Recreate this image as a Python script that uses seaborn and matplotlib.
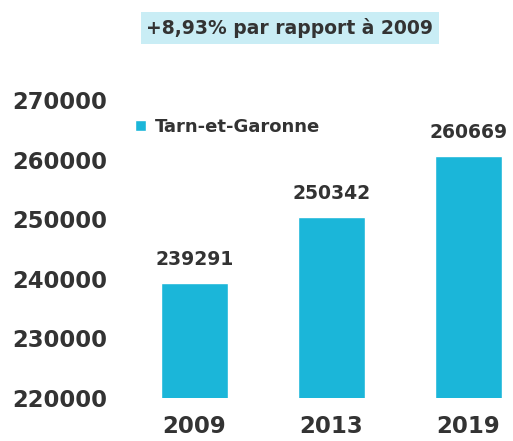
import matplotlib
matplotlib.use("Agg")
import matplotlib.pyplot as plt
import seaborn as sns
import pandas as pd

years = ["2009", "2013", "2019"]
values = [239291, 250342, 260669]
series_name = "Tarn-et-Garonne"
title = "+8,93% par rapport à 2009"
yticks = [220000, 230000, 240000, 250000, 260000, 270000]

sns.set_style("white")
plt.rcParams['font.family'] = ['DejaVu Sans']

BAR = "#1bb6d9"
TXT = "#333333"

df = pd.DataFrame({"year": years, "value": values})

fig = plt.figure(figsize=(5.13, 4.41), dpi=100)
W, H = 513, 441
left, right = 126, 513
bottom_px, top_px = 398, 100
ax = fig.add_axes([left / W, (H - bottom_px) / H, (right - left) / W, (bottom_px - top_px) / H])

sns.barplot(data=df, x="year", y="value", color=BAR, width=0.49, ax=ax,
            label=series_name, saturation=1)

ax.set_ylim(yticks[0], yticks[-1])
ax.set_xlim(-0.5, -0.5 + (right - left) / 137)
ax.set_yticks(yticks)
ax.set_yticklabels([str(t) for t in yticks], fontsize=16.3, fontweight="bold", color=TXT, ha="left")
ax.tick_params(axis="y", length=0, pad=(left - 12) * 0.72)
ax.tick_params(axis="x", length=0, pad=12)
for lbl in ax.get_xticklabels():
    lbl.set_fontsize(16.5)
    lbl.set_fontweight("bold")
    lbl.set_color(TXT)
ax.set_xlabel("")
ax.set_ylabel("")
for s in ax.spines.values():
    s.set_visible(False)

ax.bar_label(ax.containers[0], labels=[str(v) for v in values], padding=10,
             fontsize=13.5, fontweight="bold", color=TXT)

leg = ax.legend(loc="upper left", bbox_to_anchor=(0.005, 0.965), frameon=False,
                handlelength=0.6, handleheight=0.6, handletextpad=0.5,
                prop={"size": 13, "weight": "bold"}, borderaxespad=0)
for t in leg.get_texts():
    t.set_color(TXT)

fig.text(290 / W, 1 - 28 / H, title, ha="center", va="center", fontsize=13.5,
         fontweight="bold", color=TXT,
         bbox=dict(boxstyle="square,pad=0.3", fc="#c9edf5", ec="none"))

fig.savefig("out.png", dpi=100, facecolor="white")
